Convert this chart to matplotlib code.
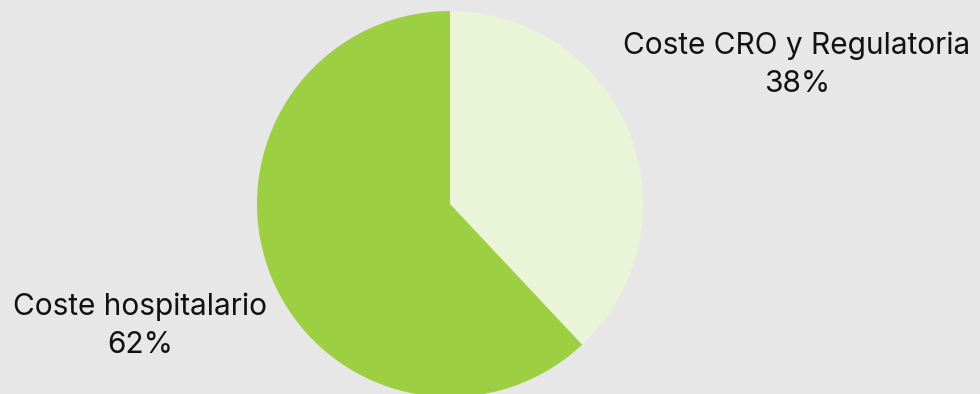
import matplotlib.pyplot as plt

# pie data
labels = ['Coste CRO y Regulatoria', 'Coste hospitalario']
values = [38, 62]
colors = ['#e9f5d6', '#9ccf42']
bg = '#e7e7e7'

plt.rcParams['font.family'] = ['Inter', 'DejaVu Sans']

fig = plt.figure(figsize=(9.8, 3.94), dpi=100, facecolor=bg)
ax = fig.add_axes([0, 0, 1, 1])
ax.set_facecolor(bg)

# pie drawn in pixel-sized data units so it sits where the reference has it
ax.pie(values, colors=colors, startangle=90, counterclock=False,
       center=(450, 190), radius=193, frame=True)
ax.set_xlim(0, 980)
ax.set_ylim(0, 394)
ax.set_aspect('equal')
ax.axis('off')

# labels placed outside the slices
label_pos = [(797, 329), (140, 68)]
for lab, v, (x, y) in zip(labels, values, label_pos):
    ax.text(x, y, f'{lab}\n{v}%', ha='center', va='center',
            fontsize=21.5, color='#111111', linespacing=1.45)

fig.savefig('out.png', dpi=100, facecolor=bg)
